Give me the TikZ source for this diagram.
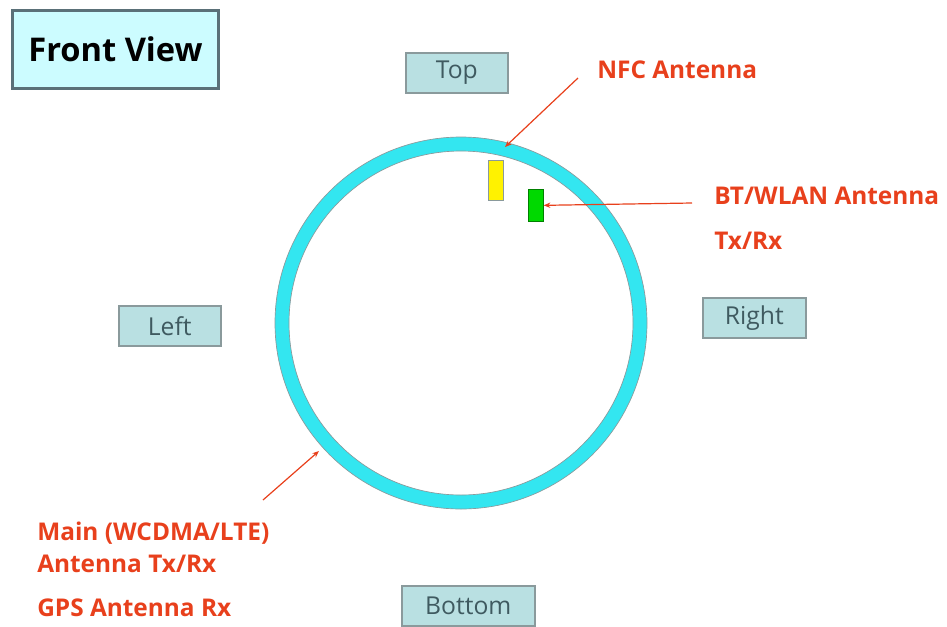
\documentclass[tikz,border=0pt]{standalone}
\usepackage{fontspec}
\setmainfont{Open Sans}
\usetikzlibrary{arrows.meta}
\definecolor{redtxt}{HTML}{E8401C}
\definecolor{ringc}{HTML}{33E6F0}
\definecolor{boxfill}{HTML}{B9E0E2}
\definecolor{boxdraw}{HTML}{8A9A9C}
\definecolor{boxtext}{HTML}{3F5A60}
\definecolor{fvfill}{HTML}{CCFCFF}
\definecolor{fvdraw}{HTML}{5A7078}
\tikzset{
  dirbox/.style={draw=boxdraw, line width=1.2pt, fill=boxfill, text=boxtext, font=\fontsize{18.5}{22}\selectfont, inner sep=0pt, anchor=north west},
  redlbl/.style={text=redtxt, font=\bfseries\fontsize{18.3}{22}\selectfont, anchor=west, inner sep=0pt},
  redarrow/.style={draw=redtxt, line width=0.9pt, -{Stealth[length=5pt,width=4pt]}}
}
\begin{document}
\begin{tikzpicture}[x=0.75pt,y=-0.75pt]
\useasboundingbox (0,0) rectangle (947,626);
% Front view
\node[draw=fvdraw, line width=2.2pt, fill=fvfill, minimum width=206*0.75pt, minimum height=78*0.75pt, anchor=north west, inner sep=0pt, font=\bfseries\fontsize{24.5}{28}\selectfont] (fv) at (11,9) {Front View};
% direction boxes
\node[dirbox, minimum width=102*0.75pt, minimum height=40*0.75pt] (top) at (405,52) {Top};
\node[dirbox, minimum width=102*0.75pt, minimum height=40*0.75pt] (left) at (118,305) {Left};
\node[dirbox, minimum width=103*0.75pt, minimum height=40*0.75pt] (right) at (702,297) {Right};
\node[dirbox, minimum width=133*0.75pt, minimum height=40*0.75pt] (bottom) at (401,585) {Bottom};
% ring
\coordinate (c) at (461,323);
\draw[ringc, line width=14*0.75pt] (c) circle (179*0.75pt);
\draw[boxdraw, line width=0.5pt] (c) circle (186*0.75pt);
\draw[boxdraw, line width=0.5pt] (c) circle (172*0.75pt);
% antennas
\node[draw=boxdraw, line width=0.5pt, fill=yellow, minimum width=15*0.75pt, minimum height=40*0.75pt, inner sep=0pt, anchor=north west] (nfc) at (488,160) {};
\node[draw=green!50!black, line width=0.5pt, fill=green!85!black, minimum width=15*0.75pt, minimum height=32*0.75pt, inner sep=0pt, anchor=north west] (bt) at (528,189) {};
% labels
\node[redlbl] (nfct) at (597,70) {NFC Antenna};
\node[redlbl] (btt) at (714,196) {BT/WLAN Antenna};
\node[redlbl] (btt2) at (714,241) {Tx/Rx};
\node[redlbl] (mt1) at (37,533) {Main (WCDMA/LTE)};
\node[redlbl] (mt2) at (37,564) {Antenna Tx/Rx};
\node[redlbl] (gps) at (37,608) {GPS Antenna Rx};
% arrows
\coordinate (nfcs) at (578,78);
\coordinate (nfce) at (505,147);
\draw[redarrow] (nfcs) -- (nfce);
\coordinate (bts) at (692,203);
\draw[redarrow] (bts) -- (bt.east);
\coordinate (ms) at (263,500);
\coordinate (me) at (319,451);
\draw[redarrow] (ms) -- (me);
\end{tikzpicture}
\end{document}
